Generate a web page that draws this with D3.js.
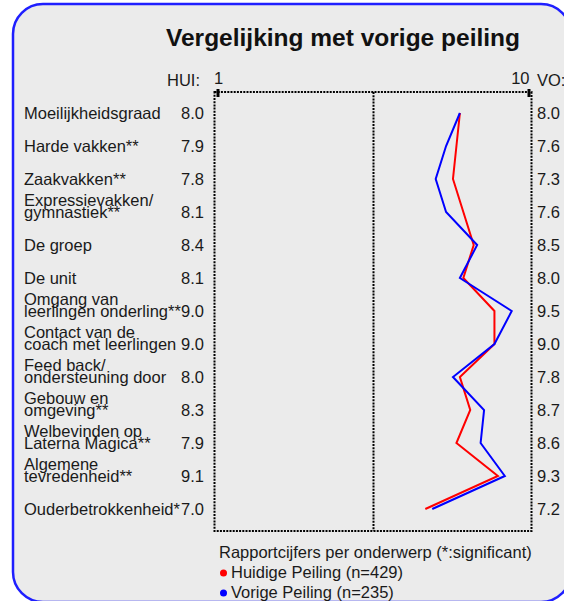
<!DOCTYPE html>
<html>
<head>
<meta charset="utf-8">
<script src="https://cdn.jsdelivr.net/npm/d3@7"></script>
<style>
  html, body { margin: 0; padding: 0; background: #ffffff; }
  svg { display: block; font-family: "Liberation Sans", Arial, sans-serif; }
</style>
</head>
<body>
<svg id="chart" width="564" height="601"></svg>
<script>
// ---- data ----
const title = "Vergelijking met vorige peiling";
const categories = [
  "Moeilijkheidsgraad",
  "Harde vakken**",
  "Zaakvakken**",
  "Expressievakken/\ngymnastiek**",
  "De groep",
  "De unit",
  "Omgang van\nleerlingen onderling**",
  "Contact van de\ncoach met leerlingen",
  "Feed back/\nondersteuning door",
  "Gebouw en\nomgeving**",
  "Welbevinden op\nLaterna Magica**",
  "Algemene\ntevredenheid**",
  "Ouderbetrokkenheid*"
];
const huidige = [8.0, 7.9, 7.8, 8.1, 8.4, 8.1, 9.0, 9.0, 8.0, 8.3, 7.9, 9.1, 7.0];
const vorige  = [8.0, 7.6, 7.3, 7.6, 8.5, 8.0, 9.5, 9.0, 7.8, 8.7, 8.6, 9.3, 7.2];
const scaleTicks = [1, 10];
const leftHeader = "HUI:";
const rightHeader = "VO:";
const legendTitle = "Rapportcijfers per onderwerp (*:significant)";
const seriesNames = ["Huidige Peiling (n=429)", "Vorige Peiling (n=235)"];
const seriesColors = ["#ff0000", "#0000ff"];

// ---- drawing ----
const svg = d3.select("#chart");
const textColor = "#1a1a1a";
const fs = 16.5;

// rounded panel
svg.append("rect")
  .attr("x", 13).attr("y", 4)
  .attr("width", 558).attr("height", 598)
  .attr("rx", 30).attr("ry", 30)
  .attr("fill", "#ebebeb")
  .attr("stroke", "#1f1fff")
  .attr("stroke-width", 2.5);

svg.append("text")
  .attr("x", 166).attr("y", 46)
  .attr("font-size", 24.5).attr("font-weight", "bold")
  .attr("fill", "#111")
  .text(title);

const x = d3.scaleLinear().domain([1, 10]).range([218, 529]);
const y = d3.scalePoint().domain(d3.range(categories.length)).range([113, 509]);

// plot box (dotted)
const boxL = 214.5, boxR = 531.5, boxT = 92, boxB = 531;
const dot = "2 1.2";
const g = svg.append("g");
g.append("rect")
  .attr("x", boxL).attr("y", boxT)
  .attr("width", boxR - boxL).attr("height", boxB - boxT)
  .attr("fill", "none").attr("stroke", "#000")
  .attr("stroke-width", 2).attr("stroke-dasharray", dot);
g.append("line")
  .attr("x1", x(5.5)).attr("x2", x(5.5))
  .attr("y1", boxT).attr("y2", boxB)
  .attr("stroke", "#000").attr("stroke-width", 2).attr("stroke-dasharray", dot);

// top axis with end ticks
const axis = d3.axisTop(x).tickValues(scaleTicks).tickSize(0).tickPadding(6)
  .tickFormat(d3.format("d"));
const ax = svg.append("g").attr("transform", `translate(0,${boxT - 2})`).call(axis);
ax.select(".domain").remove();
ax.selectAll("text").attr("font-size", fs).attr("fill", textColor)
  .attr("font-family", "Liberation Sans, Arial, sans-serif");
ax.selectAll(".tick text").filter(d => d === 10).attr("text-anchor", "end").attr("dx", 0);
ax.selectAll(".tick text").filter(d => d === 1).attr("text-anchor", "middle");
scaleTicks.forEach(t => {
  svg.append("line")
    .attr("x1", x(t)).attr("x2", x(t))
    .attr("y1", 89).attr("y2", 97)
    .attr("stroke", "#000").attr("stroke-width", 3);
});

svg.append("text").attr("x", 200).attr("y", 86)
  .attr("text-anchor", "end").attr("font-size", fs).attr("fill", textColor)
  .text(leftHeader);
svg.append("text").attr("x", 537).attr("y", 86)
  .attr("font-size", fs).attr("fill", textColor)
  .text(rightHeader);

// category labels
categories.forEach((c, i) => {
  const lines = c.split("\n");
  const t = svg.append("text")
    .attr("x", 24).attr("font-size", fs).attr("fill", textColor);
  lines.forEach((ln, j) => {
    t.append("tspan")
      .attr("x", 24)
      .attr("y", y(i) + 6 - (lines.length - 1 - j) * 12.5)
      .text(ln);
  });
  svg.append("text")
    .attr("x", 204).attr("y", y(i) + 6)
    .attr("text-anchor", "end").attr("font-size", fs).attr("fill", textColor)
    .text(d3.format(".1f")(huidige[i]));
  svg.append("text")
    .attr("x", 537).attr("y", y(i) + 6)
    .attr("font-size", fs).attr("fill", textColor)
    .text(d3.format(".1f")(vorige[i]));
});

// lines
const line = d3.line().x(d => x(d[0])).y(d => y(d[1]));
[huidige, vorige].forEach((s, k) => {
  svg.append("path")
    .datum(s.map((v, i) => [v, i]))
    .attr("d", line)
    .attr("fill", "none")
    .attr("stroke", seriesColors[k])
    .attr("stroke-width", 2)
    .attr("stroke-linejoin", "miter");
});

// legend
svg.append("text").attr("x", 219).attr("y", 558)
  .attr("font-size", fs).attr("fill", textColor)
  .text(legendTitle);
seriesNames.forEach((n, k) => {
  const yy = 578 + k * 20;
  svg.append("circle").attr("cx", 223.5).attr("cy", yy - 5).attr("r", 3.5)
    .attr("fill", seriesColors[k]);
  svg.append("text").attr("x", 231).attr("y", yy)
    .attr("font-size", fs).attr("fill", textColor)
    .text(n);
});
</script>
</body>
</html>
